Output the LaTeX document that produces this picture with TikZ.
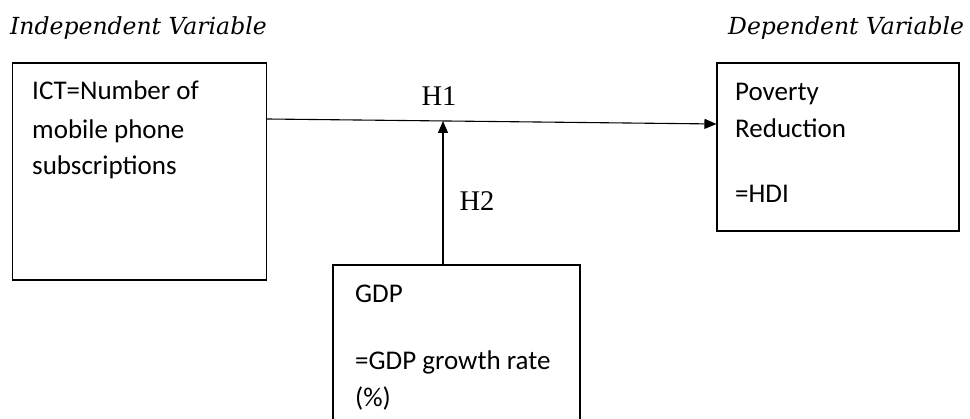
\documentclass[tikz,border=0pt]{standalone}
\usepackage{fontspec}
\usetikzlibrary{arrows.meta}
\newfontfamily\bodyfont{Carlito}
\newfontfamily\labfont{Liberation Serif}
\newfontfamily\titlefont{DejaVu Serif}
\tikzset{
  boxnode/.style={draw=black, line width=1.1pt, minimum width=#1, inner sep=0pt},
  txt/.style={anchor=base west, inner sep=0pt, font=\bodyfont\fontsize{27}{32}\selectfont},
  ttl/.style={anchor=base west, inner sep=0pt, font=\titlefont\itshape\fontsize{23.5}{28}\selectfont},
  hlab/.style={anchor=base, inner sep=0pt, font=\labfont\fontsize{28.5}{32}\selectfont},
  conn/.style={line width=1.1pt, -{Triangle[length=12pt,width=10pt]}}
}
\begin{document}
\begin{tikzpicture}[x=1pt,y=-1pt]
\useasboundingbox (0,0) rectangle (970,419);
\clip (0,0) rectangle (970,419);
% boxes
\node[boxnode=254pt, minimum height=217pt] (ict) at (139.5,171.5) {};
\node[boxnode=242pt, minimum height=168pt] (pov) at (838,147) {};
\node[boxnode=247pt, minimum height=170pt] (gdp) at (456.5,350) {};
% titles
\node[ttl] (t1) at (10,35) {Independent Variable};
\node[ttl] (t2) at (728,35) {Dependent Variable};
% box texts
\node[txt] (a1) at (32,100) {ICT=Number of};
\node[txt] (a2) at (32,139) {mobile phone};
\node[txt] (a3) at (32,175) {subscriptions};
\node[txt] (b1) at (735,101) {Poverty};
\node[txt] (b2) at (735,138) {Reduction};
\node[txt] (b3) at (735,203) {=HDI};
\node[txt] (c1) at (355,303) {GDP};
\node[txt] (c2) at (355,370) {=GDP growth rate};
\node[txt] (c3) at (355,407) {(\%)};
% connectors
\coordinate (s) at (ict.east |- 0,119);
\coordinate (e) at (pov.west |- 0,124);
\coordinate (m) at (443,121);
\coordinate (g) at (gdp.north -| 443,0);
\draw[conn] (s) -- (e);
\draw[conn] (g) -- (m);
% labels
\node[hlab] (h1) at (439,106) {H1};
\node[hlab] (h2) at (477,211) {H2};
\end{tikzpicture}
\end{document}
